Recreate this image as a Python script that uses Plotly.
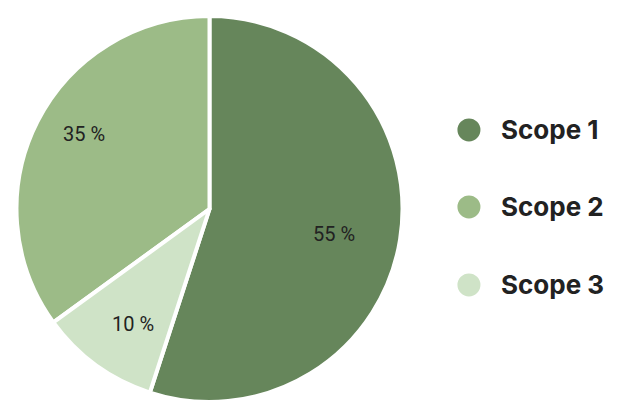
import math
import plotly.graph_objects as go

labels = ["Scope 1", "Scope 2", "Scope 3"]
values = [55, 35, 10]
colors = ["#66865b", "#9cbb87", "#cfe3c7"]

W, H = 632, 419
dom_x = [16.5 / W, 402.5 / W]
dom_y = [1 - 402.0 / H, 1 - 16.0 / H]
# value-label placement (style): radial fraction of the radius and small pixel nudges
label_r = [0.66, 0.76, 0.71]
label_nudge = [(-1, 5), (5, -8), (4, 4)]

fig = go.Figure()
fig.add_trace(go.Pie(
    labels=labels,
    values=values,
    sort=False,
    direction="counterclockwise",
    rotation=0,
    marker=dict(colors=colors, line=dict(color="white", width=4)),
    textinfo="none",
    domain=dict(x=dom_x, y=dom_y),
    showlegend=False,
    hoverinfo="label+percent",
))

annotations = []

# value labels placed at each slice's mid-angle (computed from the data)
cx = (dom_x[0] + dom_x[1]) / 2 * W
cy = (1 - (dom_y[0] + dom_y[1]) / 2) * H
R = min((dom_x[1] - dom_x[0]) * W, (dom_y[1] - dom_y[0]) * H) / 2
total = sum(values)
# plotly counterclockwise pie: first slice spans [rotation, rotation + span1]
# (clockwise angles from 12 o'clock), the rest follow counterclockwise from rotation
start = 360.0 * values[0] / total
for v, fr, (nx, ny) in zip(values, label_r, label_nudge):
    span = 360.0 * v / total
    mid = start - span / 2
    start -= span
    a = math.radians(mid)
    px = cx + fr * R * math.sin(a) + nx
    py = cy - fr * R * math.cos(a) + ny
    annotations.append(dict(
        text=f"{v} %", xref="paper", yref="paper",
        x=px / W, y=1 - py / H, xanchor="center", yanchor="middle",
        showarrow=False,
        font=dict(family="Roboto", size=20, color="#222222"),
    ))

# Custom legend (large circles + bold labels)
legend_y = [0.690, 0.506, 0.320]
shapes = []
for lab, col, yy in zip(labels, colors, legend_y):
    shapes.append(dict(
        type="circle", xref="paper", yref="paper",
        xsizemode="pixel", ysizemode="pixel",
        xanchor=0.742, yanchor=yy,
        x0=-11.5, x1=11.5, y0=-11.5, y1=11.5,
        fillcolor=col, line=dict(width=0),
    ))
    annotations.append(dict(
        text="<b>" + lab + "</b>", xref="paper", yref="paper",
        x=0.789, y=yy, xanchor="left", yanchor="middle",
        showarrow=False,
        font=dict(family="Inter", size=26, color="#222222"),
    ))

fig.update_layout(
    width=W, height=H,
    margin=dict(l=0, r=0, t=0, b=0),
    paper_bgcolor="white",
    plot_bgcolor="white",
    shapes=shapes,
    annotations=annotations,
)

fig.write_html("out.html")
